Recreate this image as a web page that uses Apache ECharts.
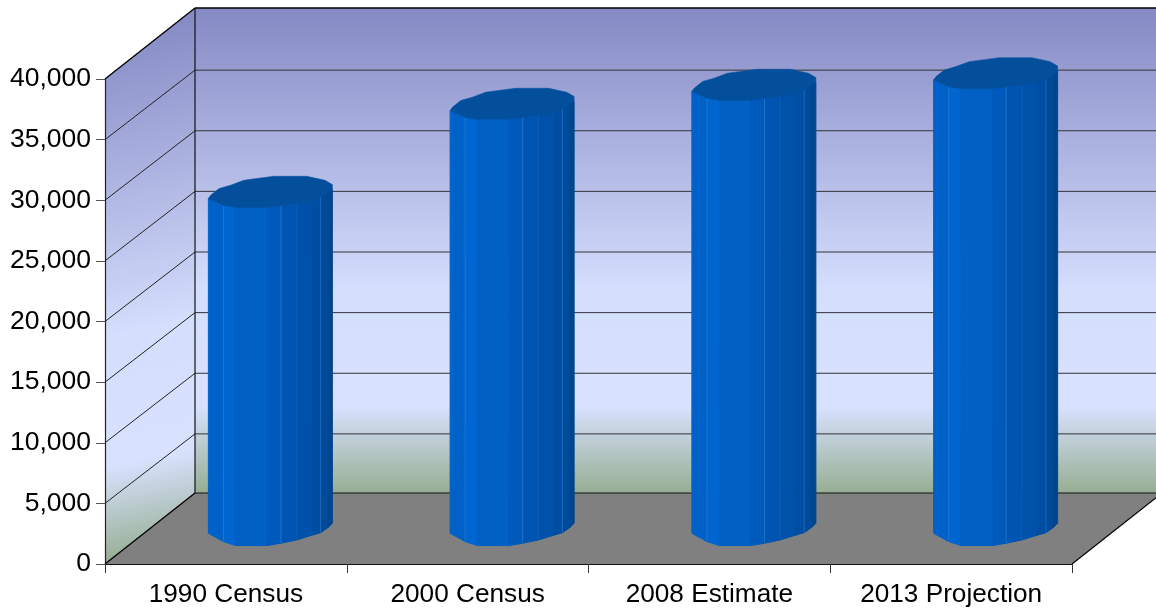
<!DOCTYPE html>
<html><head><meta charset="utf-8">
<style>html,body{margin:0;padding:0;background:#fff}#c{width:1156px;height:610px}</style>
<script src="https://cdn.jsdelivr.net/npm/echarts@6/dist/echarts.min.js"></script>
</head><body><div id="c"></div>
<script>
const categories = ['1990 Census', '2000 Census', '2008 Estimate', '2013 Projection'];
const populationValues = [27890, 35150, 36720, 37670];
const yTicks = [0, 5000, 10000, 15000, 20000, 25000, 30000, 35000, 40000];

const Y_MAX = 40000;
const DEPTH_X = 90;
const DEPTH_Y = 71;
const WALL_STOPS = [
  {offset: 0, color: '#8589C4'},
  {offset: 0.58, color: '#D4DEFD'},
  {offset: 0.82, color: '#D8E2FF'},
  {offset: 1, color: '#96AE92'}
];
// Facet outline of the column (x, y relative to the column radius)
const TOP_FRONT = [[-1,.107],[-.757,.219],[-.56,.251],[-.053,.251],[.171,.219],[.427,.187],[.667,.144],[.811,.08],[.93,.0],[1,-.037]];
const BASE_FRONT = [[-1,.053],[-.757,.187],[-.56,.251],[-.053,.251],[.171,.213],[.427,.16],[.667,.085],[.811,.043],[.93,-.04],[1,-.107]];
const TOP_BACK = [[1,-.117],[.88,-.187],[.587,-.251],[.053,-.251],[-.427,-.187],[-.64,-.107],[-.827,-.053],[-.96,.053]];
const FACET_COLORS = ['#0062C9','#0065CF','#0060C4','#005ABC','#0055B2','#0051AA','#004EA4','#004A9A','#00468F'];
const FACET_EDGES = [0, 0.8, 0, 0, 0.8, 0.3, 0, 0.7, 0, 0];

function renderWalls(params, api) {
  const p0 = api.coord([0, 0]);
  const size = api.size([1, 0])[0];
  const x0 = p0[0] - size / 2, x1 = x0 + size * categories.length;
  const yB = p0[1], yT = api.coord([0, Y_MAX])[1];
  const bx0 = x0 + DEPTH_X, bx1 = x1 + DEPTH_X;
  const byB = yB - DEPTH_Y, byT = yT - DEPTH_Y;
  const ch = [];
  const poly = (pts, style, z2) => ch.push({type: 'polygon', shape: {points: pts}, style, z2: z2 || 0, silent: true});
  const line = (a, b, stroke, w) => ch.push({type: 'line', shape: {x1: a[0], y1: a[1], x2: b[0], y2: b[1]}, style: {stroke, lineWidth: w}, z2: 2, silent: true});
  // back wall
  poly([[bx0, byT], [bx1, byT], [bx1, byB], [bx0, byB]], {
    fill: new echarts.graphic.LinearGradient(0, byT, 0, byB, WALL_STOPS, true)
  });
  // side wall: gradient with a slight skew from the far top corner to the near bottom corner
  const skew = 0.2;
  const k = ((x0 - bx0) * skew + (yB - byT)) / (1 + skew * skew);
  poly([[x0, yT], [bx0, byT], [bx0, byB], [x0, yB]], {
    fill: new echarts.graphic.LinearGradient(bx0, byT, bx0 + skew * k, byT + k, WALL_STOPS, true)
  }, 1);
  // floor
  poly([[x0, yB], [bx0, byB], [bx1, byB], [x1, yB]], {fill: '#808080'}, 1);
  // grid lines
  yTicks.forEach(v => {
    if (v <= 0 || v >= Y_MAX) return;
    const y = api.coord([0, v])[1], by = y - DEPTH_Y + 1.5;
    line([bx0, by], [bx1, by], '#33333A', 1);
    line([x0, y], [bx0, by], '#222', 1);
  });
  line([bx0, byB], [bx1, byB], '#111', 1);
  line([bx0, byT], [bx1, byT], '#000', 1.4);
  line([bx0, byT], [bx0, byB], '#111', 1.2);
  line([x0, yT], [bx0, byT], '#000', 1.4);
  line([x0, yB], [bx0, byB], '#000', 1.4);
  line([x1, yB], [bx1, byB], '#000', 1.2);
  return {type: 'group', children: ch};
}

function renderColumn(params, api) {
  const idx = api.value(0), val = api.value(1);
  const size = api.size([1, 0])[0];
  const base = api.coord([idx, 0]);
  const top = api.coord([idx, val]);
  const cx = base[0] + 44.5;
  const R = size * 0.2565;
  const by = base[1] - 34, ty = top[1] - 34;
  const T = p => [cx + p[0] * R, ty + p[1] * R];
  const B = p => [cx + p[0] * R, by + p[1] * R];
  const ch = [];
  for (let i = 0; i < TOP_FRONT.length - 1; i++) {
    ch.push({type: 'polygon', silent: true,
      shape: {points: [T(TOP_FRONT[i]), T(TOP_FRONT[i + 1]), B(BASE_FRONT[i + 1]), B(BASE_FRONT[i])]},
      style: {fill: FACET_COLORS[i], stroke: FACET_COLORS[i], lineWidth: 1}});
  }
  for (let i = 1; i < TOP_FRONT.length - 1; i++) {
    if (FACET_EDGES[i]) {
      const a = T(TOP_FRONT[i]), b = B(BASE_FRONT[i]);
      ch.push({type: 'line', silent: true, shape: {x1: a[0], y1: a[1], x2: b[0], y2: b[1]},
        style: {stroke: '#2A78D0', lineWidth: 1, opacity: FACET_EDGES[i]}});
    }
  }
  ch.push({type: 'polygon', silent: true,
    shape: {points: TOP_FRONT.concat(TOP_BACK).map(T)},
    style: {fill: '#034F9C', stroke: '#034F9C', lineWidth: 0.5}});
  return {type: 'group', children: ch};
}

const FONT = '"Liberation Sans", Arial, sans-serif';
const chart = echarts.init(document.getElementById('c'), null, {renderer: 'canvas'});
chart.setOption({
  animation: false,
  backgroundColor: '#fff',
  textStyle: {fontFamily: FONT},
  grid: {left: 105, right: 84, top: 79, bottom: 46, containLabel: false},
  xAxis: {
    type: 'category', data: categories,
    axisTick: {show: true, length: 9, alignWithLabel: false, lineStyle: {color: '#333', width: 1}},
    axisLine: {show: true, lineStyle: {color: '#111', width: 1.2}},
    axisLabel: {color: '#000', fontSize: 26.2, margin: 18, interval: 0, fontFamily: FONT},
    splitLine: {show: false}, z: 5
  },
  yAxis: {
    type: 'value', min: 0, max: Y_MAX, interval: 5000,
    axisLine: {show: true, lineStyle: {color: '#222', width: 1.2}},
    axisTick: {show: true, length: 9, lineStyle: {color: '#555', width: 1}},
    axisLabel: {color: '#000', fontSize: 26.5, margin: 14, fontFamily: FONT,
      formatter: v => v.toLocaleString('en-US')},
    splitLine: {show: false}, z: 5
  },
  series: [
    {type: 'custom', name: 'walls', renderItem: renderWalls, data: [[0, 0]], clip: false, z: 1, silent: true},
    {type: 'custom', name: 'Population', renderItem: renderColumn,
      data: populationValues.map((v, i) => [i, v]), encode: {x: 0, y: 1}, clip: false, z: 3, silent: true}
  ]
});
</script></body></html>
